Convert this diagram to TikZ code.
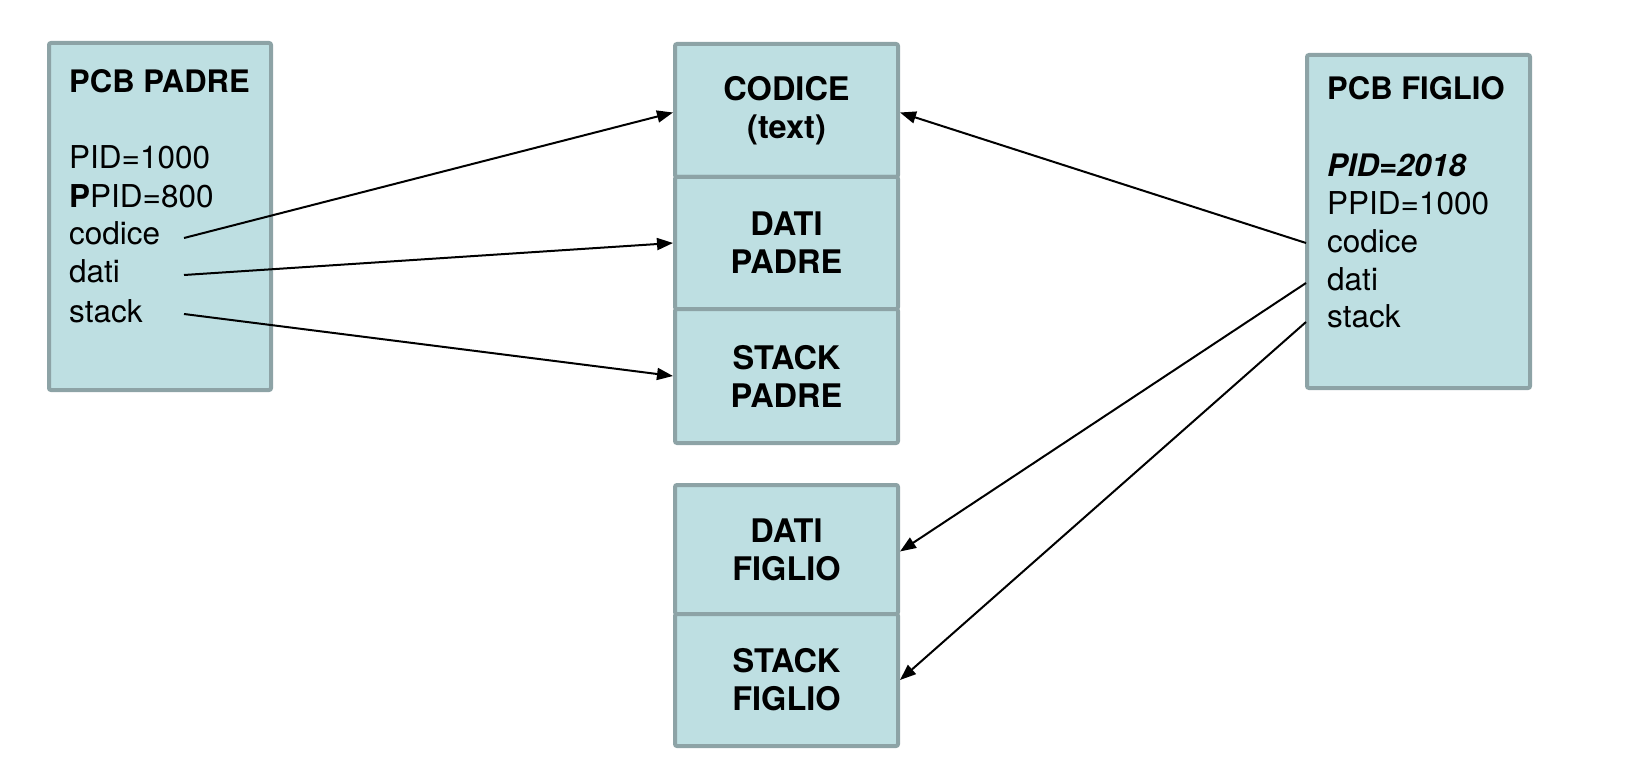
\documentclass[tikz,border=0pt]{standalone}
\usepackage{fontspec}
\setmainfont{TeX Gyre Heros}
\usetikzlibrary{arrows.meta}
\definecolor{boxfill}{RGB}{190,223,226}
\definecolor{boxline}{RGB}{141,163,166}
\begin{document}
\begin{tikzpicture}[x=1pt,y=-1pt,
  pcb/.style={draw=boxline,fill=boxfill,line width=4pt,rounded corners=2pt},
  cell/.style={draw=boxline,fill=boxfill,line width=4pt,rounded corners=2pt,
    minimum width=223pt,inner sep=0pt,align=center,
    font=\fontsize{32.5}{38}\selectfont\bfseries},
  lbl/.style={anchor=base west,inner sep=0pt,font=\fontsize{31.5}{36}\selectfont},
  ttl/.style={lbl,font=\fontsize{31}{36}\selectfont\bfseries},
  arr/.style={line width=2pt,-{Triangle[length=16pt,width=12pt]}}]
\useasboundingbox (0,0) rectangle (1628,762);
% PCB boxes
\draw[pcb] (49,43) rectangle (271,390);
\draw[pcb] (1307,55) rectangle (1530,388);
% PCB PADRE texts
\node[ttl] (tp) at (69,93) {PCB PADRE};
\node[lbl] (p1) at (69,169) {PID=1000};
\node[lbl] (p2) at (69,208) {\textbf{P}PID=800};
\node[lbl] (p3) at (69,245) {codice};
\node[lbl] (p4) at (69,283) {dati};
\node[lbl] (p5) at (69,322) {stack};
% PCB FIGLIO texts
\node[ttl] (tf) at (1327,100) {PCB FIGLIO};
\node[ttl,font=\fontsize{31}{36}\selectfont\bfseries\itshape] (f1) at (1327,177) {PID=2018};
\node[lbl] (f2) at (1327,215) {PPID=1000};
\node[lbl] (f3) at (1327,252) {codice};
\node[lbl] (f4) at (1327,290) {dati};
\node[lbl] (f5) at (1327,327) {stack};
% memory cells
\node[cell,minimum height=133pt] (cod) at (786.5,110.5) {CODICE\\(text)};
\node[cell,minimum height=132pt] (dp) at (786.5,243) {DATI\\PADRE};
\node[cell,minimum height=134pt] (sp) at (786.5,376) {STACK\\PADRE};
\node[cell,minimum height=129pt] (df) at (786.5,549.5) {DATI\\FIGLIO};
\node[cell,minimum height=132pt] (sf) at (786.5,680) {STACK\\FIGLIO};
% arrow start points
\coordinate (a1) at (184,238);
\coordinate (a2) at (184,275);
\coordinate (a3) at (184,314);
\coordinate (b1) at (1306,243);
\coordinate (b2) at (1306,283);
\coordinate (b3) at (1306,322);
\draw[arr] (a1) -- ([yshift=-2pt]cod.west);
\draw[arr] (a2) -- (dp.west);
\draw[arr] (a3) -- (sp.west);
\draw[arr] (b1) -- ([yshift=-2pt]cod.east);
\draw[arr] (b2) -- ([yshift=-2pt]df.east);
\draw[arr] (b3) -- (sf.east);
\end{tikzpicture}
\end{document}
